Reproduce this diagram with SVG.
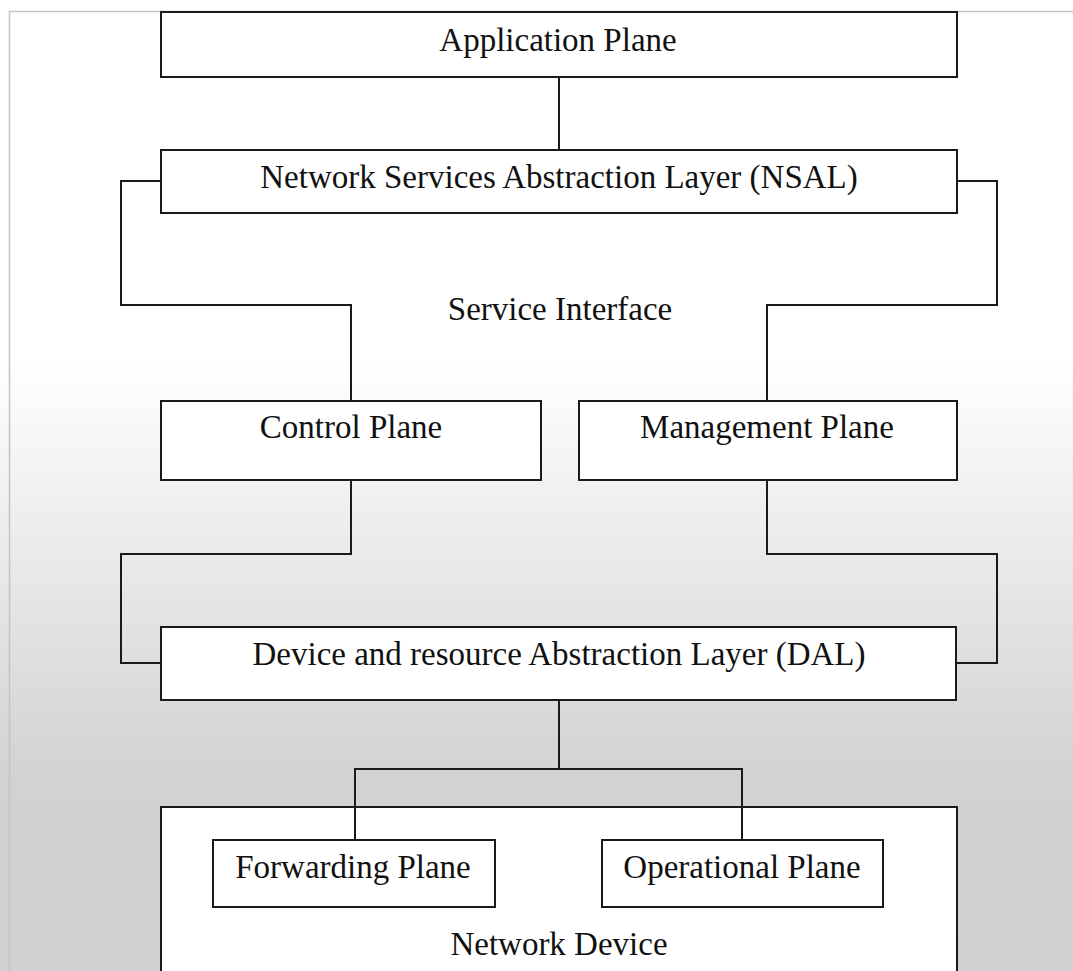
<svg xmlns="http://www.w3.org/2000/svg" width="1073" height="971" viewBox="0 0 1073 971">
<defs>
<linearGradient id="bg" x1="0" y1="0" x2="0" y2="971" gradientUnits="userSpaceOnUse">
<stop offset="0" stop-color="#ffffff"/>
<stop offset="0.37" stop-color="#ffffff"/>
<stop offset="0.8" stop-color="#d2d2d2"/>
<stop offset="1" stop-color="#d0d0d0"/>
</linearGradient>
<style>
.box{fill:#ffffff;stroke:#1a1a1a;stroke-width:2}
.ln{fill:none;stroke:#1a1a1a;stroke-width:2}
.t{font-family:"Liberation Serif","Times New Roman",serif;font-size:33px;fill:#111;text-anchor:middle}
</style>
</defs>
<rect x="0" y="0" width="1073" height="971" fill="url(#bg)"/>
<path d="M9.5,971 V11.5 H1073" fill="none" stroke="#c4c4c4" stroke-width="1.5"/>

<g id="connectors">
<path class="ln" d="M559,77 V150"/>
<path class="ln" d="M161,181 H121 V305 H351 V401"/>
<path class="ln" d="M957,181 H997 V305 H767 V401"/>
<path class="ln" d="M351,480 V554 H121 V663 H161"/>
<path class="ln" d="M767,480 V554 H997 V663 H957"/>
<path class="ln" d="M559,700 V769"/>
</g>

<g id="network-device">
<rect class="box" x="161" y="807" width="796" height="200"/>
<text class="t" x="559" y="955">Network Device</text>
</g>

<g id="connectors-inner">
<path class="ln" d="M355,840 V769 H742 V840"/>
</g>

<g id="application-plane">
<rect class="box" x="161" y="12" width="796" height="65"/>
<text class="t" x="558" y="51">Application Plane</text>
</g>

<g id="nsal">
<rect class="box" x="161" y="150" width="796" height="63"/>
<text class="t" x="559" y="188">Network Services Abstraction Layer (NSAL)</text>
</g>

<g id="service-interface">
<text class="t" x="560" y="320">Service Interface</text>
</g>

<g id="control-plane">
<rect class="box" x="161" y="401" width="380" height="79"/>
<text class="t" x="351" y="438">Control Plane</text>
</g>

<g id="management-plane">
<rect class="box" x="579" y="401" width="378" height="79"/>
<text class="t" x="767" y="438">Management Plane</text>
</g>

<g id="dal">
<rect class="box" x="161" y="627" width="795" height="73"/>
<text class="t" x="559" y="665">Device and resource Abstraction Layer (DAL)</text>
</g>

<g id="forwarding-plane">
<rect class="box" x="213" y="840" width="282" height="67"/>
<text class="t" x="353" y="878">Forwarding Plane</text>
</g>

<g id="operational-plane">
<rect class="box" x="602" y="840" width="281" height="67"/>
<text class="t" x="742" y="878">Operational Plane</text>
</g>
</svg>
